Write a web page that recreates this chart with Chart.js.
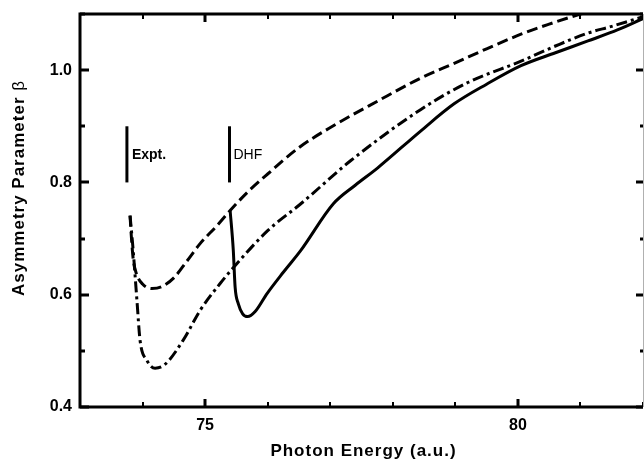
<!DOCTYPE html>
<html>
<head>
<meta charset="utf-8">
<title>Asymmetry Parameter</title>
<script src="https://cdn.jsdelivr.net/npm/chart.js@4/dist/chart.umd.min.js"></script>
<style>
    html, body { margin: 0; padding: 0; background: #fff; }
    #wrap { width: 644px; height: 460px; position: relative; }
</style>
</head>
<body>
<div id="wrap"><canvas id="betaChart"></canvas></div>
<script>
// ============================================
// Data
// ============================================

// dashed curve
const dashEnergy = [73.80, 73.82, 73.85, 73.90, 74.00, 74.15, 74.30, 74.50, 74.71, 74.92, 75.19, 75.40, 75.70, 76.00, 76.50, 77.05, 77.76, 78.45, 79.00, 79.50, 80.05, 80.50, 80.80, 81.10];
const dashBeta   = [0.741, 0.705, 0.664, 0.638, 0.619, 0.611, 0.614, 0.630, 0.660, 0.691, 0.723, 0.750, 0.785, 0.815, 0.862, 0.901, 0.945, 0.986, 1.013, 1.038, 1.064, 1.082, 1.093, 1.103];

// dash-dot curve
const dashDotEnergy = [73.80, 73.85, 73.91, 73.96, 74.07, 74.20, 74.35, 74.65, 74.92, 75.24, 75.45, 76.00, 76.53, 77.33, 78.45, 79.20, 80.05, 80.60, 81.12, 81.50, 82.00];
const dashDotBeta   = [0.741, 0.679, 0.590, 0.519, 0.483, 0.469, 0.475, 0.519, 0.572, 0.620, 0.648, 0.714, 0.762, 0.839, 0.930, 0.978, 1.016, 1.043, 1.066, 1.078, 1.095];

// solid curve (DHF)
const solidEnergy = [75.40, 75.45, 75.48, 75.53, 75.60, 75.68, 75.80, 75.99, 76.25, 76.53, 77.05, 77.40, 77.76, 78.45, 78.98, 79.50, 80.05, 80.60, 81.12, 81.60, 82.00];
const solidBeta   = [0.750, 0.680, 0.613, 0.584, 0.566, 0.561, 0.570, 0.602, 0.640, 0.679, 0.762, 0.795, 0.826, 0.892, 0.940, 0.975, 1.008, 1.031, 1.052, 1.072, 1.092];

// threshold markers
const markerLabels = ["Expt.", "DHF"];
const markerEnergy = [73.75, 75.39];
const markerBeta = [0.8, 0.9];

// axes
const X_MIN = 73, X_MAX = 82;
const Y_MIN = 0.4, Y_MAX = 1.1;
const X_TICK_LABELS = [75, 80];
const Y_TICK_LABELS = [0.4, 0.6, 0.8, 1.0];

const FONT = "'Liberation Sans', Arial, sans-serif";

function toPoints(xs, ys) {
    return xs.map((x, i) => ({ x: x, y: ys[i] }));
}

function curve(xs, ys, dash) {
    return {
        data: toPoints(xs, ys),
        borderColor: "#000",
        borderWidth: 3,
        borderDash: dash,
        borderCapStyle: "butt",
        pointRadius: 0,
        cubicInterpolationMode: "monotone",
        fill: false,
    };
}

function marker(i) {
    return {
        data: markerBeta.map((b) => ({ x: markerEnergy[i], y: b })),
        borderColor: "#000",
        borderWidth: 3,
        pointRadius: 0,
        fill: false,
    };
}

// no extra room for edge labels, keep the plot box where it is
function noPadding(s) {
    s.paddingLeft = 0;
    s.paddingRight = 0;
    s.paddingTop = 0;
    s.paddingBottom = 0;
}

// ============================================
// Frame, inward ticks, titles, marker labels
// ============================================

const frameAndLabels = {
    id: "frameAndLabels",
    afterDraw(chart) {
        const { ctx, chartArea: a, scales } = chart;
        const xs = scales.x, ys = scales.y;
        ctx.save();
        ctx.strokeStyle = "#000";
        ctx.lineCap = "butt";

        // x ticks, bottom and top
        xs.ticks.forEach((t) => {
            const px = Math.round(xs.getPixelForValue(t.value));
            const major = X_TICK_LABELS.includes(Math.round(t.value));
            const len = major ? 8 : 5;
            ctx.lineWidth = major ? 3 : 2;
            ctx.beginPath();
            ctx.moveTo(px, a.bottom);
            ctx.lineTo(px, a.bottom - len);
            ctx.moveTo(px, a.top);
            ctx.lineTo(px, a.top + len);
            ctx.stroke();
        });

        // y ticks, left and right
        ys.ticks.forEach((t) => {
            const py = Math.round(ys.getPixelForValue(t.value));
            const v = Math.round(t.value * 10) / 10;
            const major = Y_TICK_LABELS.includes(v);
            ctx.lineWidth = 3;
            ctx.beginPath();
            ctx.moveTo(a.left, py);
            ctx.lineTo(a.left + (major ? 9 : 5), py);
            ctx.moveTo(a.right, py);
            ctx.lineTo(a.right - (major ? 7 : 3), py);
            ctx.stroke();
        });

        // frame
        ctx.lineWidth = 3;
        ctx.beginPath();
        ctx.moveTo(a.right, a.top);
        ctx.lineTo(a.left, a.top);
        ctx.lineTo(a.left, a.bottom);
        ctx.lineTo(a.right, a.bottom);
        ctx.stroke();
        ctx.strokeStyle = "#b0b0b0";
        ctx.lineWidth = 1;
        ctx.beginPath();
        ctx.moveTo(a.right + 0.5, a.top);
        ctx.lineTo(a.right + 0.5, a.bottom);
        ctx.stroke();

        // marker labels
        ctx.fillStyle = "#000";
        ctx.textBaseline = "alphabetic";
        ctx.textAlign = "left";
        const labelY = ys.getPixelForValue(0.848) + 4;
        ctx.font = "bold 14px " + FONT;
        ctx.fillText(markerLabels[0], xs.getPixelForValue(markerEnergy[0]) + 5, labelY);
        ctx.font = "14px " + FONT;
        ctx.fillText(markerLabels[1], xs.getPixelForValue(markerEnergy[1]) + 4, labelY);

        // x title
        ctx.letterSpacing = "1px";
        ctx.font = "bold 17px " + FONT;
        ctx.textAlign = "center";
        ctx.fillText("Photon Energy (a.u.)", (a.left + a.right) / 2 + 2, 456);

        // y title (rotated), beta in plain weight
        const main = "Asymmetry Parameter ";
        ctx.font = "bold 17px " + FONT;
        const wMain = ctx.measureText(main).width;
        ctx.font = "17px " + FONT;
        const wBeta = ctx.measureText("β").width;
        ctx.translate(24, 188);
        ctx.rotate(-Math.PI / 2);
        ctx.textAlign = "left";
        const start = -(wMain + wBeta) / 2;
        ctx.font = "bold 17px " + FONT;
        ctx.fillText(main, start, 0);
        ctx.font = "17px " + FONT;
        ctx.fillText("β", start + wMain, 0);
        ctx.restore();
    },
};

// ============================================
// Chart
// ============================================

function renderChart() {
    const ctx = document.getElementById("betaChart").getContext("2d");
    const tickFont = { family: FONT, size: 16, weight: "bold" };

    return new Chart(ctx, {
        type: "line",
        data: {
            datasets: [
                curve(dashEnergy, dashBeta, [11, 5]),
                curve(dashDotEnergy, dashDotBeta, [11, 4, 3, 4]),
                curve(solidEnergy, solidBeta, []),
                marker(0),
                marker(1),
            ],
        },
        options: {
            responsive: true,
            maintainAspectRatio: false,
            animation: false,
            layout: { padding: { left: 0, top: 14, right: 1, bottom: 0 } },
            plugins: {
                legend: { display: false },
                tooltip: { enabled: false },
            },
            scales: {
                x: {
                    type: "linear",
                    min: X_MIN,
                    max: X_MAX,
                    grid: { display: false, drawTicks: false },
                    border: { display: false },
                    ticks: {
                        stepSize: 1,
                        autoSkip: false,
                        maxRotation: 0,
                        padding: 9,
                        color: "#000",
                        font: tickFont,
                        callback: (v) => (X_TICK_LABELS.includes(v) ? String(v) : ""),
                    },
                    afterFit: (s) => { s.height = 53; noPadding(s); },
                },
                y: {
                    type: "linear",
                    min: Y_MIN,
                    max: Y_MAX,
                    grid: { display: false, drawTicks: false },
                    border: { display: false },
                    ticks: {
                        stepSize: 0.1,
                        autoSkip: false,
                        padding: 8,
                        color: "#000",
                        font: tickFont,
                        callback: (v) => {
                            const r = Math.round(v * 10) / 10;
                            return Y_TICK_LABELS.includes(r) ? r.toFixed(1) : "";
                        },
                    },
                    afterFit: (s) => { s.width = 80; noPadding(s); },
                },
            },
        },
        plugins: [frameAndLabels],
    });
}

document.addEventListener("DOMContentLoaded", renderChart);
</script>
</body>
</html>
